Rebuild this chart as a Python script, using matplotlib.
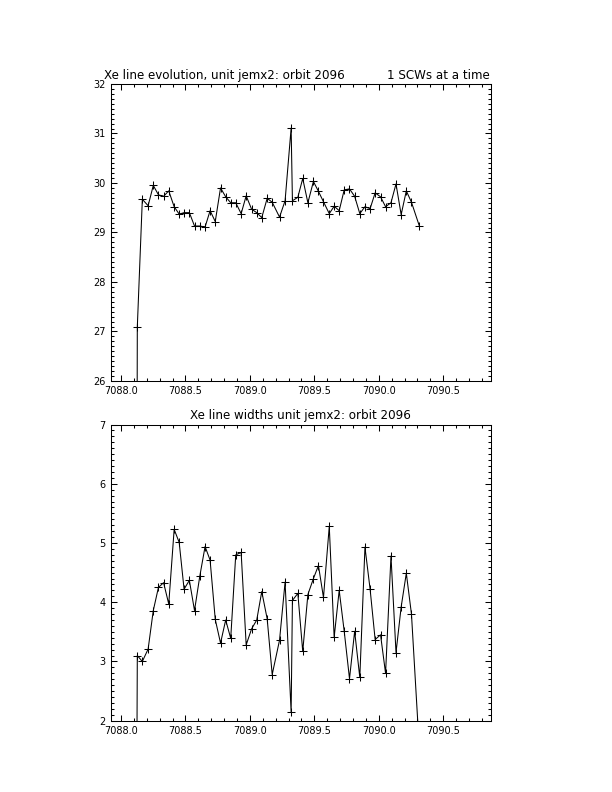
import numpy as np
import matplotlib
matplotlib.use("Agg")
import matplotlib.pyplot as plt
from matplotlib.ticker import MultipleLocator, FormatStrFormatter

# time (days), shared by both panels; first point and last width point fall off the axes
t = [7088.120, 7088.126, 7088.165, 7088.210, 7088.250, 7088.290, 7088.330, 7088.370,
     7088.412, 7088.451, 7088.489, 7088.530, 7088.570, 7088.611, 7088.652, 7088.691,
     7088.731, 7088.772, 7088.812, 7088.851, 7088.890, 7088.932, 7088.971, 7089.013,
     7089.053, 7089.092, 7089.134, 7089.173, 7089.230, 7089.273, 7089.320, 7089.330,
     7089.372, 7089.410, 7089.450, 7089.493, 7089.532, 7089.571, 7089.616, 7089.654,
     7089.693, 7089.732, 7089.773, 7089.813, 7089.853, 7089.893, 7089.933, 7089.972,
     7090.014, 7090.053, 7090.095, 7090.134, 7090.174, 7090.214, 7090.254, 7090.314]

# line energy
energy = [20.0, 27.09, 29.67, 29.54, 29.95, 29.76, 29.73, 29.84,
          29.52, 29.37, 29.40, 29.40, 29.13, 29.13, 29.11, 29.44,
          29.22, 29.90, 29.72, 29.60, 29.60, 29.38, 29.74, 29.47,
          29.40, 29.30, 29.69, 29.61, 29.31, 29.64, 31.11, 29.64,
          29.71, 30.09, 29.60, 30.03, 29.83, 29.62, 29.38, 29.53,
          29.44, 29.86, 29.88, 29.73, 29.38, 29.52, 29.48, 29.80,
          29.72, 29.52, 29.60, 29.98, 29.36, 29.84, 29.61, 29.14]

# line width
width = [0.0, 3.10, 3.00, 3.21, 3.86, 4.25, 4.33, 3.97,
         5.23, 5.01, 4.22, 4.37, 3.86, 4.44, 4.94, 4.71,
         3.71, 3.31, 3.70, 3.39, 4.80, 4.84, 3.28, 3.55,
         3.70, 4.18, 3.72, 2.78, 3.36, 4.34, 2.14, 4.03,
         4.15, 3.17, 4.13, 4.40, 4.62, 4.08, 5.28, 3.41,
         4.20, 3.51, 2.71, 3.51, 2.73, 4.93, 4.22, 3.37,
         3.45, 2.80, 4.78, 3.15, 3.92, 4.49, 3.80, 1.57]

plt.rcParams['font.family'] = 'DejaVu Sans'
plt.rcParams['font.size'] = 7

fig = plt.figure(figsize=(6.12, 7.92), dpi=100)
ax1 = fig.add_axes([0.181, 0.519, 0.621, 0.375])
ax2 = fig.add_axes([0.181, 0.090, 0.621, 0.374])


def style(ax, y, ylo, yhi):
    ax.plot(t, y, color='black', lw=0.75, marker='+', ms=5.5, mew=0.75)
    ax.set_xlim(7087.92, 7090.87)
    ax.set_ylim(ylo, yhi)
    ax.xaxis.set_major_locator(MultipleLocator(0.5))
    ax.xaxis.set_minor_locator(MultipleLocator(0.1))
    ax.yaxis.set_major_locator(MultipleLocator(1))
    ax.yaxis.set_minor_locator(MultipleLocator(0.1))
    ax.xaxis.set_major_formatter(FormatStrFormatter('%.1f'))
    ax.tick_params(which='both', direction='in', top=True, right=True,
                   width=0.75, colors='black')
    ax.tick_params(which='major', length=4.5)
    ax.tick_params(which='minor', length=2.3)
    for s in ax.spines.values():
        s.set_linewidth(0.75)


style(ax1, energy, 26, 32)
style(ax2, width, 2, 7)

ax1.text(-0.018, 1.008, "Xe line evolution, unit jemx2: orbit 2096",
         transform=ax1.transAxes, ha='left', va='bottom', fontsize=8.6)
ax1.text(0.998, 1.008, "1 SCWs at a time",
         transform=ax1.transAxes, ha='right', va='bottom', fontsize=8.6)
ax2.text(0.5, 1.008, "Xe line widths unit jemx2: orbit 2096",
         transform=ax2.transAxes, ha='center', va='bottom', fontsize=8.6)

fig.savefig("out.png", dpi=100)
